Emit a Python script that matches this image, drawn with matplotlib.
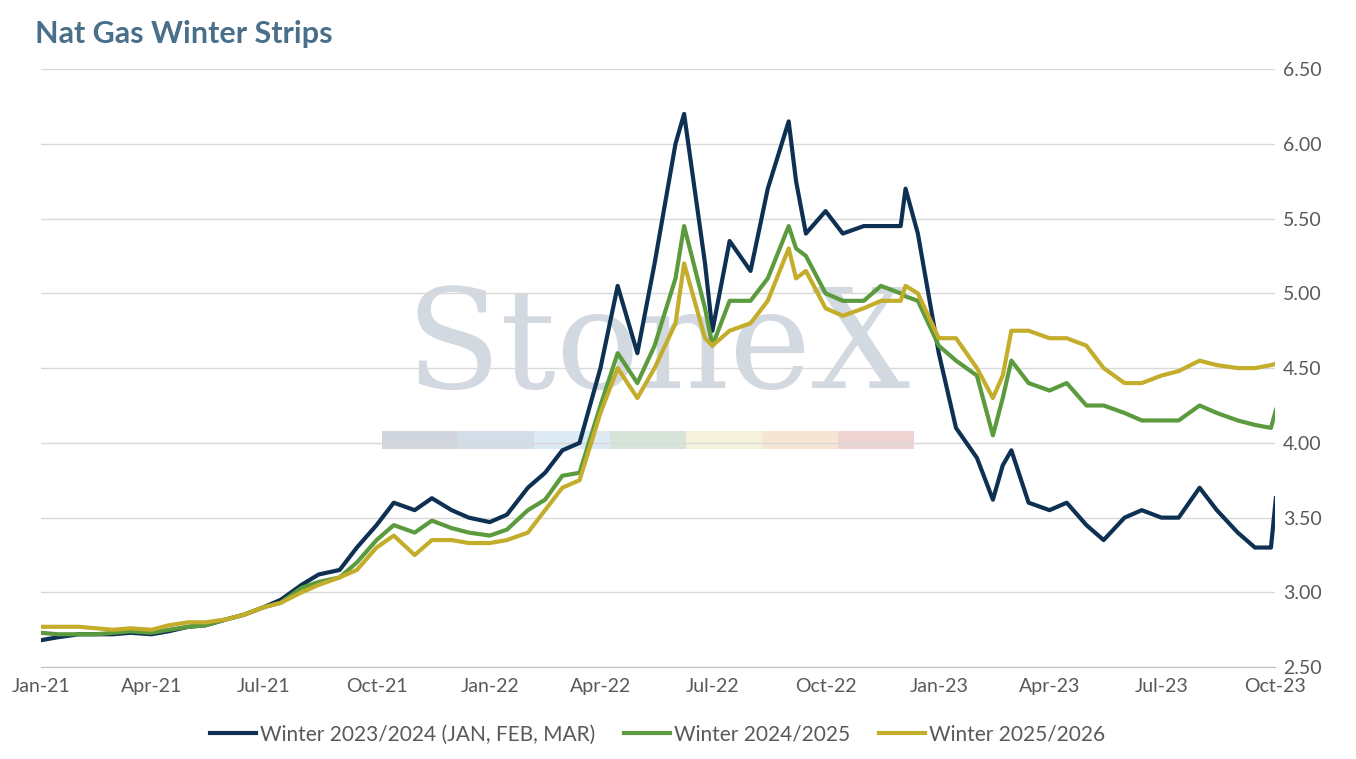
import matplotlib
matplotlib.use("Agg")
import matplotlib.pyplot as plt
import matplotlib.dates as mdates
import pandas as pd

plt.rcParams['font.family'] = ['Lato', 'DejaVu Sans']

dates = ["2021-01-01","2021-01-15","2021-02-01","2021-02-15","2021-03-01","2021-03-15","2021-04-01","2021-04-15",
         "2021-05-01","2021-05-15","2021-06-01","2021-06-15","2021-07-01","2021-07-15","2021-08-01","2021-08-15",
         "2021-09-01","2021-09-15","2021-10-01","2021-10-15","2021-11-01","2021-11-15","2021-12-01","2021-12-15",
         "2022-01-01","2022-01-15","2022-02-01","2022-02-15","2022-03-01","2022-03-15","2022-04-01","2022-04-15",
         "2022-05-01","2022-05-15","2022-06-01","2022-06-08","2022-06-25","2022-07-01","2022-07-15","2022-08-01",
         "2022-08-15","2022-09-01","2022-09-07","2022-09-15","2022-10-01","2022-10-15","2022-11-01","2022-11-15",
         "2022-12-01","2022-12-05","2022-12-15",
         "2023-01-01","2023-01-15","2023-02-01","2023-02-14","2023-02-22","2023-03-01","2023-03-15","2023-04-01",
         "2023-04-15","2023-05-01","2023-05-15","2023-06-01","2023-06-15","2023-07-01","2023-07-15","2023-08-01",
         "2023-08-15","2023-09-01","2023-09-15","2023-09-28","2023-10-02"]

w2324 = [2.68,2.70,2.72,2.72,2.72,2.73,2.72,2.74,2.77,2.78,2.82,2.85,2.90,2.95,3.05,3.12,3.15,3.30,3.45,3.60,3.55,3.63,3.55,3.50,
         3.47,3.52,3.70,3.80,3.95,4.00,4.50,5.05,4.60,5.20,6.00,6.20,5.20,4.75,5.35,5.15,5.70,6.15,5.75,5.40,5.55,5.40,5.45,5.45,5.45,5.70,5.40,
         4.60,4.10,3.90,3.62,3.85,3.95,3.60,3.55,3.60,3.45,3.35,3.50,3.55,3.50,3.50,3.70,3.55,3.40,3.30,3.30,3.63]
w2425 = [2.73,2.72,2.72,2.72,2.73,2.74,2.73,2.75,2.77,2.78,2.82,2.85,2.90,2.93,3.03,3.07,3.10,3.20,3.35,3.45,3.40,3.48,3.43,3.40,
         3.38,3.42,3.55,3.62,3.78,3.80,4.25,4.60,4.40,4.65,5.10,5.45,4.90,4.65,4.95,4.95,5.10,5.45,5.30,5.25,5.00,4.95,4.95,5.05,5.00,4.98,4.95,
         4.65,4.55,4.45,4.05,4.30,4.55,4.40,4.35,4.40,4.25,4.25,4.20,4.15,4.15,4.15,4.25,4.20,4.15,4.12,4.10,4.22]
w2526 = [2.77,2.77,2.77,2.76,2.75,2.76,2.75,2.78,2.80,2.80,2.82,2.85,2.90,2.93,3.00,3.05,3.10,3.15,3.30,3.38,3.25,3.35,3.35,3.33,
         3.33,3.35,3.40,3.55,3.70,3.75,4.20,4.50,4.30,4.50,4.80,5.20,4.70,4.65,4.75,4.80,4.95,5.30,5.10,5.15,4.90,4.85,4.90,4.95,4.95,5.05,5.00,
         4.70,4.70,4.50,4.30,4.45,4.75,4.75,4.70,4.70,4.65,4.50,4.40,4.40,4.45,4.48,4.55,4.52,4.50,4.50,4.52,4.53]
labels = ["Winter 2023/2024 (JAN, FEB, MAR)", "Winter 2024/2025", "Winter 2025/2026"]
colors = ["#0e3153", "#5b9b3d", "#c5ad2c"]

x = pd.to_datetime(dates)
fig = plt.figure(figsize=(13.56, 7.59), dpi=100)
ax = fig.add_axes([0.03, 0.121, 0.91, 0.788])

# watermark
ax.text(0.5, 0.53, "StoneX", transform=ax.transAxes, fontsize=100, color="#d3d9e0",
        family="DejaVu Serif", ha="center", va="center", zorder=0)
wm = ["#d0d5de", "#d3dde8", "#dde9f3", "#d5e3d9", "#f4f2dc", "#f6e5d4", "#eed3d3"]
for i, c in enumerate(wm):
    ax.add_patch(plt.Rectangle((0.277 + i * 0.0615, 0.365), 0.0615, 0.03, transform=ax.transAxes,
                               color=c, zorder=0, lw=0))

for y, lab, c in zip([w2324, w2425, w2526], labels, colors):
    ax.plot(x, y, color=c, lw=3, label=lab, zorder=3)

ax.set_xlim(pd.Timestamp("2021-01-01"), pd.Timestamp("2023-10-01"))
ax.set_ylim(2.5, 6.5)
ax.set_yticks([2.5, 3.0, 3.5, 4.0, 4.5, 5.0, 5.5, 6.0, 6.5])
ax.yaxis.set_major_formatter(matplotlib.ticker.FormatStrFormatter("%.2f"))
ax.yaxis.tick_right()
ax.xaxis.set_major_locator(mdates.MonthLocator(bymonth=[1, 4, 7, 10]))
ax.xaxis.set_major_formatter(mdates.DateFormatter("%b-%y"))
ax.grid(axis="y", color="#d9d9d9", lw=1)
for s in ["top", "right", "left"]:
    ax.spines[s].set_visible(False)
ax.spines["bottom"].set_color("#bfbfbf")
ax.tick_params(axis="both", length=0, labelsize=14, colors="#595959", pad=8)
ax.tick_params(axis="y", pad=6)

ax.legend(loc="upper center", bbox_to_anchor=(0.5, -0.065), ncol=3, frameon=False, fontsize=15,
          handlelength=2.2, columnspacing=1.4, handletextpad=0.2, labelcolor="#595959")
fig.text(0.026, 0.955, "Nat Gas Winter Strips", fontsize=22, fontweight="bold", color="#4a6f8a", va="center")

fig.savefig("out.png")
